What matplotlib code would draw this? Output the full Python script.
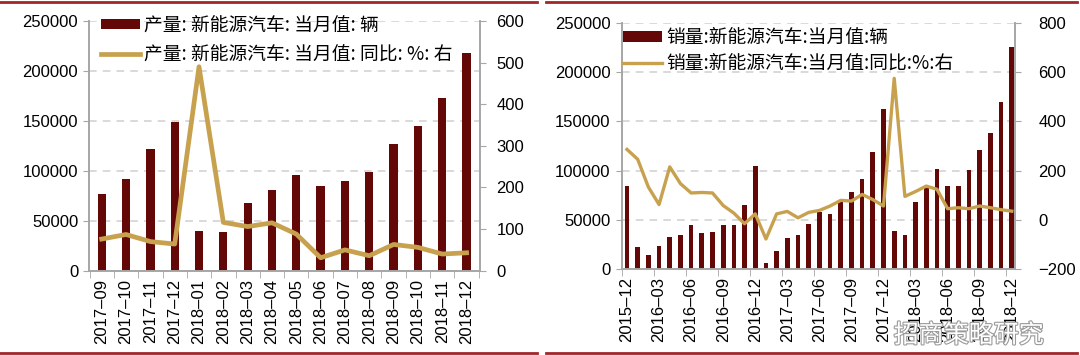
import numpy as np
import matplotlib
matplotlib.use("Agg")
import matplotlib.pyplot as plt
import matplotlib.patheffects as pe

plt.rcParams['font.family'] = ['Liberation Sans', 'Noto Sans CJK SC', 'DejaVu Sans']
plt.rcParams['axes.unicode_minus'] = True

# ---- data: production (left chart)
prod_months = ['2017-09', '2017-10', '2017-11', '2017-12', '2018-01', '2018-02',
               '2018-03', '2018-04', '2018-05', '2018-06', '2018-07', '2018-08',
               '2018-09', '2018-10', '2018-11', '2018-12']
prod_units = [76700, 91700, 121700, 149000, 40000, 38500, 67700, 80500,
              95500, 85000, 89500, 98500, 126700, 145000, 173300, 218300]
prod_yoy = [76, 87, 70, 64, 490, 116, 106, 115, 88, 31, 50, 36, 63, 56, 40, 43]

# ---- data: sales (right chart)
sales_months = ['2015-12',
                '2016-01', '2016-02', '2016-03', '2016-04', '2016-05', '2016-06',
                '2016-07', '2016-08', '2016-09', '2016-10', '2016-11', '2016-12',
                '2017-01', '2017-02', '2017-03', '2017-04', '2017-05', '2017-06',
                '2017-07', '2017-08', '2017-09', '2017-10', '2017-11', '2017-12',
                '2018-01', '2018-02', '2018-03', '2018-04', '2018-05', '2018-06',
                '2018-07', '2018-08', '2018-09', '2018-10', '2018-11', '2018-12']
sales_units = [84000, 22000, 14500, 23000, 32000, 35000, 44300, 36500, 38000,
               44300, 44300, 65300, 105000, 6000, 18000, 31500, 34800, 45300,
               57500, 56100, 69700, 77800, 91300, 119000, 162700, 38600, 34800,
               68300, 82200, 102000, 84600, 84600, 100800, 121000, 138000,
               169500, 226000]
sales_yoy = [286, 246, 133, 62, 215, 147, 109, 111, 109, 58, 27, -16, 24,
             -78, 24, 34, 8, 30, 38, 56, 79, 76, 103, 82, 56, 575, 95, 115,
             137, 124, 45, 49, 45, 56, 49, 41, 35]

bar_color = '#640707'
line_color = '#C8A14F'
spine_color = '#A6A6A6'
frame_red = '#A0262A'
fs = 12


def style_axes(ax, ax2, rpad):
    for a in (ax, ax2):
        a.spines['top'].set_visible(False)
        for s in ('left', 'right', 'bottom'):
            a.spines[s].set_color(spine_color)
            a.spines[s].set_linewidth(1.2)
    ax.yaxis.grid(True, linestyle=(0, (5, 4)), color='#CFCFCF', linewidth=1.1)
    ax.set_axisbelow(True)
    ax.tick_params(axis='y', direction='out', length=4, color=spine_color,
                   labelsize=fs, pad=4)
    ax2.tick_params(axis='y', direction='out', length=4, color=spine_color,
                    labelsize=fs, pad=rpad)
    ax.tick_params(axis='x', which='major', length=0, labelsize=fs,
                   labelrotation=90, pad=6)
    ax.tick_params(axis='x', which='minor', length=5, color=spine_color)


fig = plt.figure(figsize=(10.8, 3.55), dpi=100)
leg_font = {'family': 'Noto Sans CJK SC', 'size': 13.5}

# ---- left chart
ax1 = fig.add_axes([0.0827, 0.2375, 0.3617, 0.7035])
ax1r = ax1.twinx()
x1 = np.arange(len(prod_months))
ax1.bar(x1, prod_units, width=0.34, color=bar_color, label='产量: 新能源汽车: 当月值: 辆')
ax1r.plot(x1, prod_yoy, color=line_color, lw=3.4, solid_joinstyle='round',
          label='产量: 新能源汽车: 当月值: 同比: %: 右')
ax1.set_xlim(-0.51, 15.55)
ax1.set_ylim(0, 250000)
ax1.set_yticks(np.arange(0, 250001, 50000))
ax1r.set_ylim(0, 600)
ax1r.set_yticks(np.arange(0, 601, 100))
ax1.set_xticks(x1)
ax1.set_xticklabels([m.replace('-', '–') for m in prod_months])
ax1.set_xticks(np.arange(-0.5, 16, 1), minor=True)
style_axes(ax1, ax1r, 8)
h1, l1 = ax1.get_legend_handles_labels()
h2, l2 = ax1r.get_legend_handles_labels()
ax1r.legend(h1 + h2, l1 + l2, loc='upper left', bbox_to_anchor=(0.0, 1.07),
            frameon=False, prop=leg_font,
            handlelength=2.1, handleheight=0.5, handletextpad=0.2,
            labelspacing=0.45, borderaxespad=0.2)

# ---- right chart
ax2 = fig.add_axes([0.5756, 0.2423, 0.3642, 0.693])
ax2r = ax2.twinx()
x2 = np.arange(len(sales_months))
ax2.bar(x2, sales_units, width=0.44, color=bar_color, label='销量:新能源汽车:当月值:辆')
ax2r.plot(x2, sales_yoy, color=line_color, lw=2.4, solid_joinstyle='round',
          label='销量:新能源汽车:当月值:同比:%:右')
ax2.set_xlim(-0.47, 36.3)
ax2.set_ylim(0, 250000)
ax2.set_yticks(np.arange(0, 250001, 50000))
ax2r.set_ylim(-200, 800)
ax2r.set_yticks(np.arange(-200, 801, 200))
ax2.set_xticks(x2[::3])
ax2.set_xticklabels([m.replace('-', '–') for m in sales_months[::3]])
ax2.set_xticks(np.arange(-0.5, 36, 3), minor=True)
style_axes(ax2, ax2r, 13)
h1, l1 = ax2.get_legend_handles_labels()
h2, l2 = ax2r.get_legend_handles_labels()
ax2r.legend(h1 + h2, l1 + l2, loc='upper left', bbox_to_anchor=(-0.025, 1.03),
            frameon=False, prop=leg_font,
            handlelength=2.1, handleheight=0.5, handletextpad=0.2,
            labelspacing=0.25, borderaxespad=0.2)

# ---- red frame lines top and bottom of each panel
for xa, xb in ((0.0, 0.497), (0.506, 0.997)):
    for yy in (0.993, 0.007):
        fig.add_artist(plt.Line2D([xa, xb], [yy, yy], transform=fig.transFigure,
                                  color=frame_red, lw=2.0))

# ---- watermark
fig.text(0.897, 0.055, '招商策略研究', family='Noto Sans CJK SC', fontsize=18,
         color='white', ha='center', va='center',
         path_effects=[pe.withStroke(linewidth=1.6, foreground='#9A9A9A')])

fig.savefig('out.png', dpi=100)
